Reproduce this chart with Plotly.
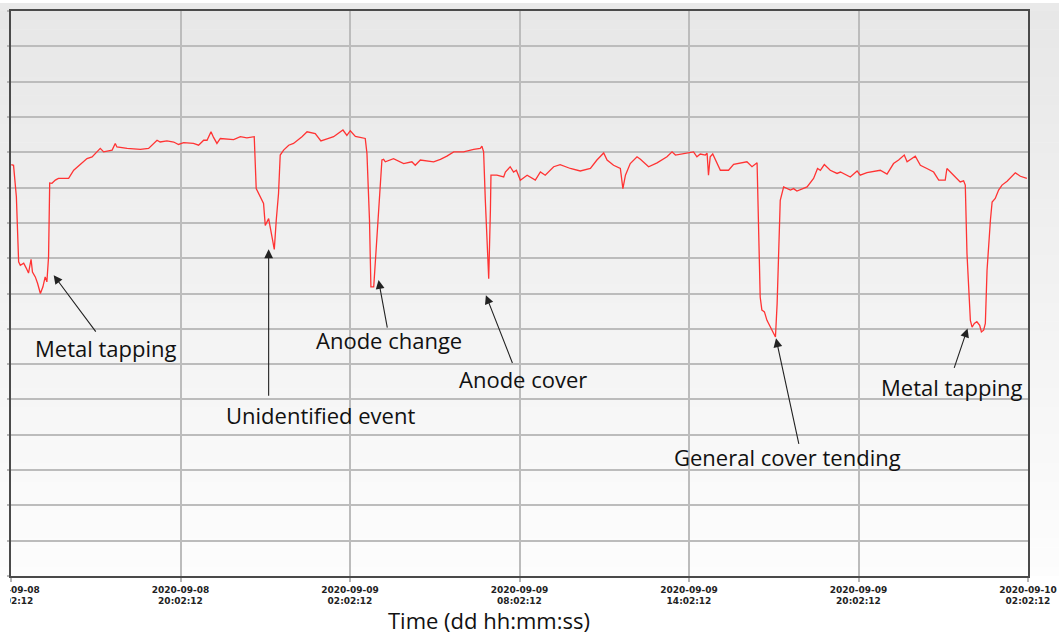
import pandas as pd
import plotly.graph_objects as go

# ---------------- data ----------------
start = pd.Timestamp("2020-09-08 14:02:12")
end = pd.Timestamp("2020-09-10 02:02:12")

# hours elapsed since start, and signal value (arbitrary units; 1 unit = 1 grid step)
elapsed_h = [
    0.01, 0.09, 0.19, 0.27, 0.33, 0.45, 0.54, 0.62, 0.71, 0.76, 0.86, 0.94, 1.04, 1.13, 1.21, 1.27,
    1.33, 1.37, 1.45, 1.57, 1.68, 2.04, 2.22, 2.51, 2.69, 2.87, 3.16, 3.28, 3.58, 3.69, 3.75, 4.11,
    4.58, 4.87, 5.17, 5.28, 5.52, 5.76, 5.93, 6.11, 6.46, 6.64, 6.82, 6.94, 7.08, 7.17, 7.29, 7.41,
    7.88, 8.12, 8.35, 8.61, 8.68, 8.94, 9.00, 9.12, 9.18, 9.32, 9.39, 9.47, 9.53, 9.65, 9.83, 10.00,
    10.30, 10.48, 10.77, 10.97, 11.24, 11.42, 11.75, 11.89, 12.01, 12.19, 12.54, 12.60, 12.69, 12.74,
    12.84, 12.90, 12.96, 13.05, 13.13, 13.19, 13.25, 13.54, 13.90, 14.19, 14.31, 14.49, 14.96, 15.20,
    15.43, 15.67, 16.02, 16.38, 16.61, 16.67, 16.73, 16.79, 16.85, 16.91, 16.97, 16.99, 17.20, 17.44,
    17.50, 17.67, 17.79, 17.89, 18.03, 18.27, 18.56, 18.74, 18.91, 19.21, 19.44, 19.80, 20.15, 20.51,
    20.74, 20.98, 21.10, 21.33, 21.57, 21.66, 21.75, 21.92, 22.16, 22.28, 22.57, 22.87, 23.22, 23.40,
    23.52, 23.81, 24.16, 24.28, 24.40, 24.58, 24.64, 24.69, 24.75, 24.84, 25.11, 25.40, 25.58, 26.05,
    26.23, 26.41, 26.43, 26.52, 26.58, 26.67, 26.76, 26.88, 26.99, 27.06, 27.12, 27.17, 27.23, 27.35,
    27.47, 27.59, 27.70, 27.82, 28.18, 28.41, 28.55, 28.65, 28.79, 29.00, 29.24, 29.36, 29.71, 29.95,
    30.06, 30.30, 30.77, 31.01, 31.24, 31.42, 31.62, 31.72, 32.01, 32.19, 32.42, 32.66, 32.84, 33.07,
    33.13, 33.25, 33.43, 33.60, 33.72, 33.78, 33.84, 33.90, 33.96, 34.02, 34.10, 34.19, 34.29, 34.35,
    34.43, 34.49, 34.55, 34.67, 34.73, 34.84, 34.96, 35.08, 35.26, 35.55, 35.73, 35.96,
]
signal = [
    11.65, 11.63, 10.74, 8.90, 8.80, 8.86, 8.72, 8.58, 8.97, 8.61, 8.47, 8.29, 8.00, 8.19, 8.47, 8.33,
    9.04, 11.13, 11.12, 11.21, 11.26, 11.26, 11.49, 11.68, 11.82, 11.87, 12.11, 12.01, 12.06, 12.25, 12.15, 12.11,
    12.08, 12.11, 12.34, 12.29, 12.32, 12.29, 12.22, 12.27, 12.25, 12.20, 12.34, 12.34, 12.58, 12.42, 12.25, 12.39,
    12.36, 12.44, 12.41, 12.44, 10.97, 10.55, 9.93, 10.12, 9.89, 9.25, 10.08, 10.83, 11.92, 12.06, 12.20, 12.25,
    12.44, 12.58, 12.53, 12.32, 12.39, 12.44, 12.63, 12.48, 12.61, 12.45, 12.39, 11.97, 10.08, 8.19,
    8.19, 8.94, 9.79, 10.74, 11.78, 11.80, 11.73, 11.82, 11.68, 11.73, 11.63, 11.78, 11.73, 11.80,
    11.89, 12.01, 12.01, 12.08, 12.11, 12.17, 12.01, 10.64, 9.23, 8.42, 10.36, 11.35, 11.35, 11.30,
    11.44, 11.59, 11.44, 11.49, 11.21, 11.35, 11.21, 11.44, 11.35, 11.59, 11.65, 11.54, 11.47, 11.54,
    11.78, 11.98, 11.78, 11.63, 11.54, 10.97, 11.35, 11.68, 11.87, 11.80, 11.59, 11.70, 11.87, 12.01,
    11.92, 11.97, 12.01, 11.87, 11.95, 11.92, 11.97, 11.35, 11.87, 11.95, 11.49, 11.49, 11.66, 11.73,
    11.59, 11.70, 11.02, 7.90, 7.53, 7.48, 7.24, 7.05, 6.87, 6.77, 7.72, 9.13, 10.64, 11.02,
    10.97, 10.93, 10.97, 10.90, 11.02, 11.26, 11.54, 11.49, 11.65, 11.49, 11.40, 11.44, 11.30, 11.47,
    11.35, 11.42, 11.49, 11.38, 11.68, 11.78, 11.92, 11.73, 11.89, 11.63, 11.54, 11.44, 11.21, 11.21,
    11.54, 11.44, 11.30, 11.16, 11.19, 11.07, 9.13, 8.00, 7.24, 7.05, 7.15, 7.20, 7.10, 6.91,
    6.96, 7.15, 8.66, 10.08, 10.59, 10.69, 10.93, 11.07, 11.18, 11.42, 11.32, 11.26,
]

event_labels = ["Metal tapping", "Unidentified event", "Anode change",
                "Anode cover", "General cover tending", "Metal tapping"]
event_tip_h = [1.51, 9.12, 13.01, 16.81, 27.08, 33.86]
event_tip_v = [8.52, 9.25, 8.38, 7.95, 6.73, 7.01]
event_tail_h = [3.04, 9.12, 13.33, 17.77, 27.90, 33.37]
event_tail_v = [6.88, 5.06, 6.99, 5.99, 3.70, 5.85]
event_text_h = [3.37, 10.97, 13.39, 18.12, 27.50, 33.32]
event_text_v = [6.47, 4.55, 6.68, 5.57, 3.36, 5.34]

tick_h = [0, 6, 12, 18, 24, 30, 36]
x_title = "Time (dd hh:mm:ss)"

# ---------------- figure ----------------
def t(h):
    return start + pd.to_timedelta(h, unit="h")

times = [t(h) for h in elapsed_h]
tick_times = [t(h) for h in tick_h]
tick_text = [f"{tt:%Y-%m-%d}<br>{tt:%H:%M:%S}" for tt in tick_times]

W, H = 1059, 637
ML, MR, MT, MB = 11, 31, 11, 61
PW, PH = W - ML - MR, H - MT - MB

fig = go.Figure()
fig.add_trace(go.Scatter(x=times, y=signal, mode="lines",
                         line=dict(color="#ff3333", width=1.3),
                         hoverinfo="skip", showlegend=False))

shapes = []
# gray gradient background (page + plot area)
xl, xr = -ML / PW, (W - ML) / PW
n_bands = 60
for i in range(n_bands):
    y0 = i / n_bands
    y1 = (i + 1) / n_bands
    c = round(253 - (253 - 231) * (i + 0.5) / n_bands)
    shapes.append(dict(type="rect", xref="paper", yref="paper", x0=xl, x1=xr,
                       y0=y0, y1=y1 + 0.001, fillcolor=f"rgb({c},{c},{c})",
                       line=dict(width=0), layer="below"))
shapes.append(dict(type="rect", xref="paper", yref="paper", x0=xl, x1=xr,
                   y0=1.0, y1=(PH + MT - 3) / PH, fillcolor="rgb(233,233,233)",
                   line=dict(width=0), layer="below"))
# clip of first tick label at the left edge, as in the original capture
shapes.append(dict(type="rect", xref="paper", yref="paper", x0=xl, x1=-1.0 / PW,
                   y0=-MB / PH, y1=-3 / PH, fillcolor="white",
                   line=dict(width=0), layer="above"))

annotations = []
for lab, th, tv, ah, av, xh, xv in zip(event_labels, event_tip_h, event_tip_v,
                                        event_tail_h, event_tail_v,
                                        event_text_h, event_text_v):
    annotations.append(dict(x=t(th), y=tv, ax=t(ah), ay=av, xref="x", yref="y",
                            axref="x", ayref="y", text="", showarrow=True,
                            arrowhead=2, arrowsize=1.6, arrowwidth=1.1,
                            arrowcolor="#222222", standoff=0, startstandoff=0))
    annotations.append(dict(x=t(xh), y=xv, xref="x", yref="y", text=lab,
                            showarrow=False, xanchor="center", yanchor="middle",
                            font=dict(family="Open Sans", size=22, color="#111111")))
annotations.append(dict(x=(488.5 - ML) / PW, y=-(620 - (MT + PH)) / PH,
                        xref="paper", yref="paper", text=x_title, showarrow=False,
                        xanchor="center", yanchor="middle",
                        font=dict(family="Open Sans", size=22, color="#111111")))

fig.update_layout(
    width=W, height=H, autosize=False,
    margin=dict(l=ML, r=MR, t=MT, b=MB, pad=0, autoexpand=False),
    paper_bgcolor="white", plot_bgcolor="rgba(0,0,0,0)",
    shapes=shapes, annotations=annotations, showlegend=False,
)
fig.update_xaxes(
    type="date", range=[start, end],
    tickvals=tick_times, ticktext=tick_text,
    tickfont=dict(family="DejaVu Sans", size=9, color="#222222", weight="bold"),
    ticklabeloverflow="allow", automargin=False,
    ticks="outside", ticklen=4, tickcolor="#b5b5b5", tickwidth=1.5,
    showgrid=True, gridcolor="#bcbcbc", gridwidth=1.5,
    showline=True, mirror=True, linecolor="#4a4a4a", linewidth=1.6,
    zeroline=False, fixedrange=True,
)
fig.update_yaxes(
    range=[0, 16], dtick=1, tick0=0, showticklabels=False, automargin=False,
    ticks="outside", ticklen=2, tickcolor="#b5b5b5", tickwidth=1.5,
    showgrid=True, gridcolor="#bcbcbc", gridwidth=1.5,
    showline=True, mirror=True, linecolor="#4a4a4a", linewidth=1.6,
    zeroline=False, fixedrange=True,
)

fig.write_html("out.html", config={"displayModeBar": False},
               post_script="document.body.style.margin='0';")
